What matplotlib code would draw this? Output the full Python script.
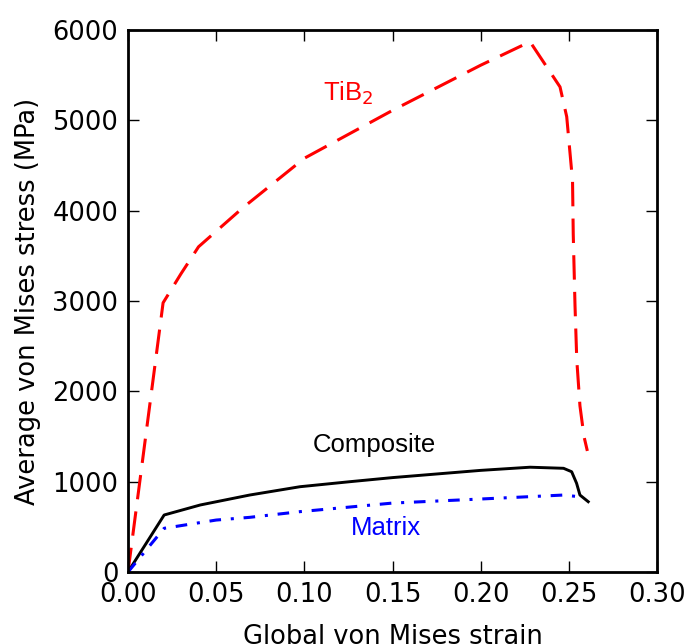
import matplotlib

matplotlib.use("Agg")
import matplotlib.pyplot as plt

# stress-strain readings (strain, MPa)
tib2_strain = [0.0, 0.0199, 0.03, 0.04, 0.065, 0.10, 0.15, 0.20, 0.228,
               0.245, 0.2488, 0.2521, 0.2525, 0.2535, 0.2545, 0.2563, 0.2586, 0.2605]
tib2_stress = [0, 2980, 3300, 3600, 4030, 4580, 5110, 5610, 5870,
               5370, 5040, 4330, 3740, 2950, 2350, 1840, 1500, 1340]

comp_strain = [0.0, 0.0205, 0.041, 0.069, 0.0975, 0.126, 0.15, 0.20, 0.228,
               0.247, 0.2516, 0.2544, 0.2563, 0.261]
comp_stress = [0, 631, 742, 852, 944, 1000, 1045, 1125, 1160,
               1148, 1110, 982, 852, 778]

matrix_strain = [0.0, 0.0205, 0.05, 0.069, 0.0975, 0.15, 0.20, 0.247, 0.2554]
matrix_stress = [0, 484, 575, 605, 668, 763, 808, 852, 834]

x_ticks = [0.00, 0.05, 0.10, 0.15, 0.20, 0.25, 0.30]
y_ticks = [0, 1000, 2000, 3000, 4000, 5000, 6000]

fig = plt.figure(figsize=(6.88, 6.44), dpi=100)
ax = fig.add_axes([128 / 688, 72 / 644, 529 / 688, 542 / 644])

ax.plot(tib2_strain, tib2_stress, color="red", lw=2.2, dashes=(8, 4))
ax.plot(comp_strain, comp_stress, color="black", lw=2.1)
ax.plot(matrix_strain, matrix_stress, color="blue", lw=2.2, dashes=(3.8, 3.2, 1, 3.2))

ann = dict(fontsize=18.5, family="Liberation Sans", va="center")
ax.text(0.1106, 5300, "TiB$_2$", color="red", ha="left", **ann)
ax.text(0.1396, 1410, "Composite", color="black", ha="center", **ann)
ax.text(0.146, 490, "Matrix", color="blue", ha="center", **ann)

ax.set_xlim(0, 0.30)
ax.set_ylim(0, 6000)
ax.set_xticks(x_ticks)
ax.set_xticklabels([f"{t:.2f}" for t in x_ticks])
ax.set_yticks(y_ticks)
ax.tick_params(direction="in", length=8, width=1, top=True, right=True,
               labelsize=18.5, pad=7)
for sp in ax.spines.values():
    sp.set_linewidth(2)

ax.set_xlabel("Global von Mises strain", fontsize=18.5, labelpad=12)
ax.set_ylabel("Average von Mises stress (MPa)", fontsize=18.5, labelpad=8)

fig.savefig("out.png", dpi=100)
plt.close(fig)
